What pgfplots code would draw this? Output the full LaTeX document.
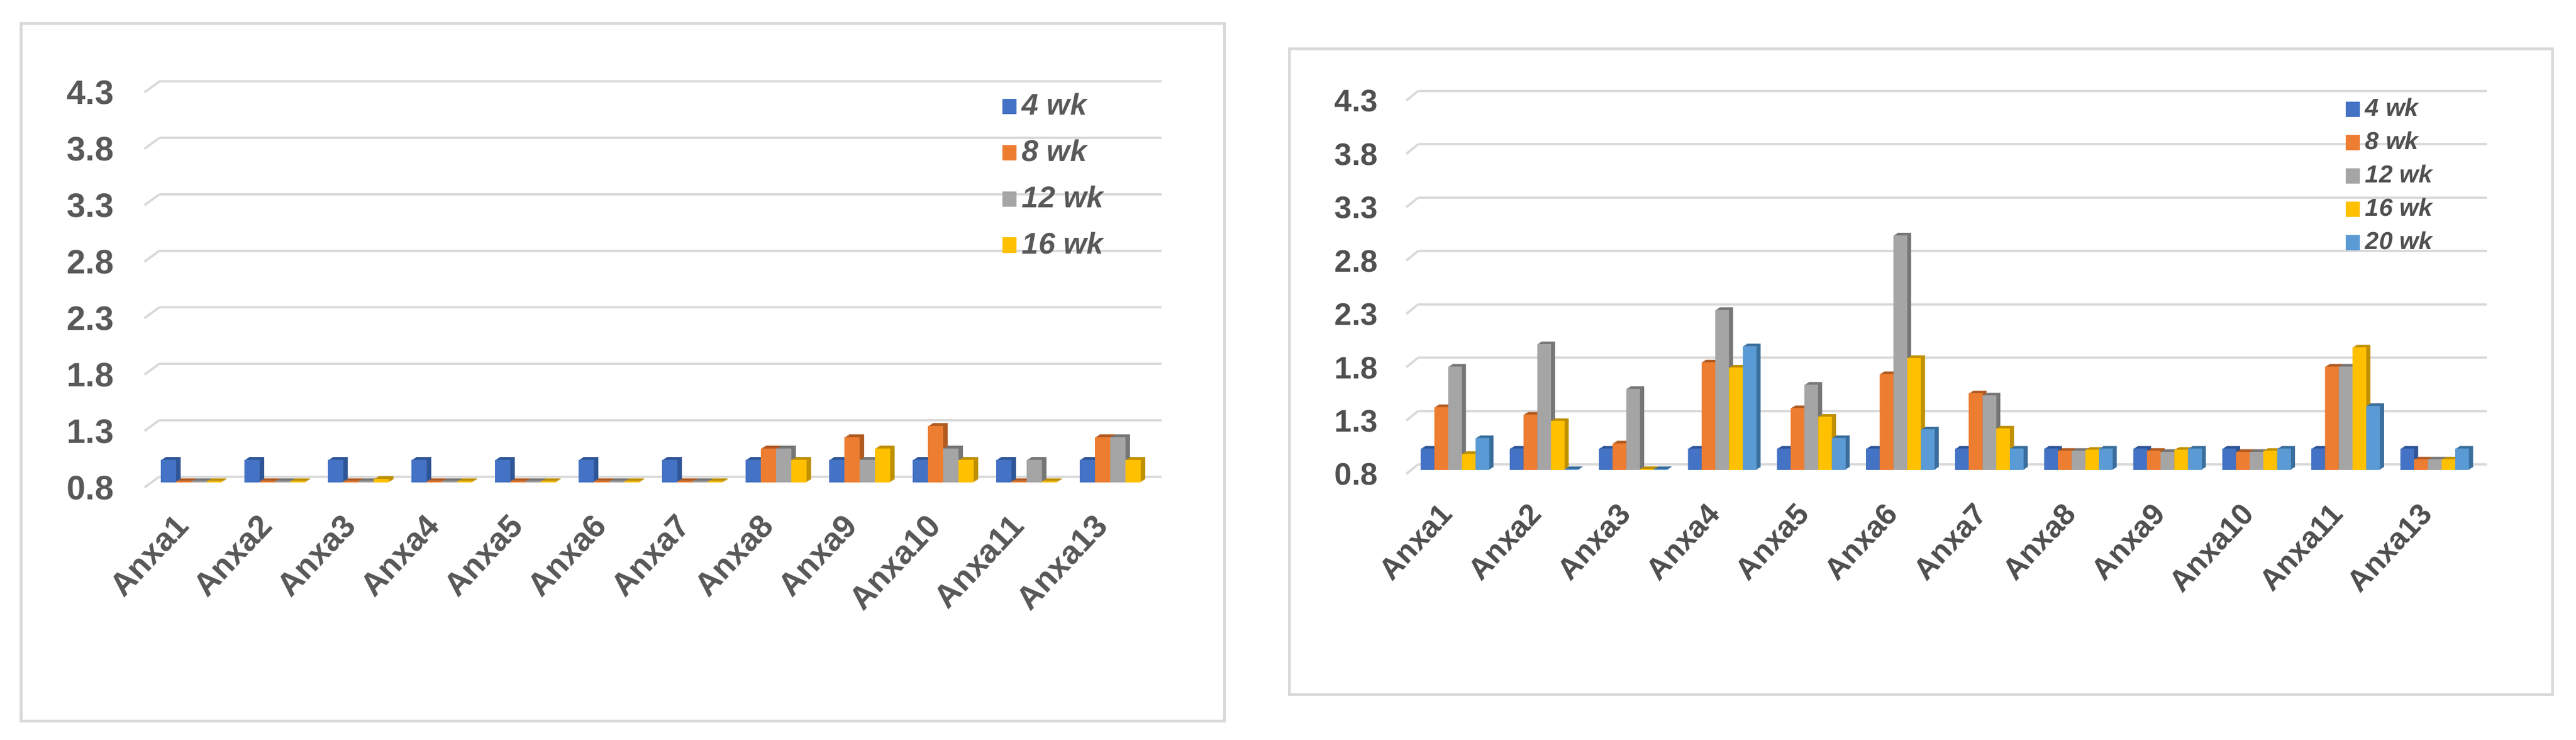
\documentclass[border=0pt]{standalone}
\usepackage{fontspec}
\setmainfont{Liberation Sans}
\usepackage{pgfplots}
\usepackage{pgfplotstable}
\pgfplotsset{compat=1.18}

\definecolor{c4}{HTML}{4472C4}
\definecolor{c8}{HTML}{ED7D31}
\definecolor{c12}{HTML}{A5A5A5}
\definecolor{c16}{HTML}{FFC000}
\definecolor{c20}{HTML}{5B9BD5}
\definecolor{d4}{HTML}{2F5597}
\definecolor{d8}{HTML}{B05A22}
\definecolor{d12}{HTML}{767676}
\definecolor{d16}{HTML}{BF9000}
\definecolor{d20}{HTML}{3A6E9C}
\definecolor{gridc}{HTML}{D9D9D9}
\definecolor{txtl}{HTML}{595959}
\definecolor{txtr}{HTML}{505050}

% left panel, 4 series
\pgfplotstableread{
idx w4 w8 w12 w16
0  1.0 0.81 0.81 0.81
1  1.0 0.81 0.81 0.81
2  1.0 0.81 0.81 0.83
3  1.0 0.81 0.81 0.81
4  1.0 0.81 0.81 0.81
5  1.0 0.81 0.81 0.81
6  1.0 0.81 0.81 0.81
7  1.0 1.1  1.1  1.0
8  1.0 1.2  1.0  1.1
9  1.0 1.3  1.1  1.0
10 1.0 0.81 1.0  0.81
11 1.0 1.2  1.2  1.0
}\leftdata

% right panel, 5 series
\pgfplotstableread{
idx w4 w8 w12 w16 w20
0  1.0 1.39 1.77 0.95 1.10
1  1.0 1.32 1.98 1.26 0.81
2  1.0 1.05 1.56 0.81 0.81
3  1.0 1.81 2.30 1.76 1.96
4  1.0 1.38 1.60 1.30 1.10
5  1.0 1.70 3.00 1.85 1.18
6  1.0 1.52 1.50 1.19 1.00
7  1.0 0.98 0.98 0.99 1.00
8  1.0 0.98 0.97 0.99 1.00
9  1.0 0.97 0.97 0.98 1.00
10 1.0 1.77 1.77 1.95 1.40
11 1.0 0.90 0.90 0.90 1.00
}\rightdata

% bar with a darker oblique extrusion
\tikzset{
  ext/.code n args={3}{\tikzset{
    fill=#1, draw=none,
    preaction={fill=#2, transform canvas={shift={(#3*1.6pt,#3*1.0pt)}}},
    preaction={fill=#2, transform canvas={shift={(#3*1.07pt,#3*0.67pt)}}},
    preaction={fill=#2, transform canvas={shift={(#3*0.53pt,#3*0.33pt)}}}
  }}
}

\pgfplotsset{
  panel/.style={
    scale only axis, clip=false,
    ybar=0pt,
    ymin=0.8, ymax=4.3,
    xmin=-0.5, xmax=11.5,
    ytick={0.8,1.3,1.8,2.3,2.8,3.3,3.8,4.3},
    xtick={0,...,11},
    xticklabels={Anxa1,Anxa2,Anxa3,Anxa4,Anxa5,Anxa6,Anxa7,Anxa8,Anxa9,Anxa10,Anxa11,Anxa13},
    axis line style={draw=none},
    major tick length=0pt,
    ymajorgrids,
    /pgf/number format/assume math mode=true,
    /pgf/number format/fixed,
    /pgf/number format/fixed zerofill,
    /pgf/number format/precision=1,
    legend cell align=left,
    legend image code/.code={\fill[##1,draw=none] (0pt,-2.75pt) rectangle (5pt,2.75pt);},
  },
}

\begin{document}
\begin{tikzpicture}[x=1pt,y=1pt]
\fill[white] (0,0) rectangle (912.8,262);
\draw[gridc,line width=1pt] (7.4,6.6) rectangle (433.8,253.6);
\draw[gridc,line width=1pt] (456.8,16) rectangle (904.4,244.6);

\begin{axis}[panel,
  at={(53pt,91.2pt)}, anchor=south west,
  width=355.2pt, height=139.9pt,
  major grid style={gridc,line width=0.8pt,xshift=3.4pt,yshift=2pt},
  yticklabel style={font=\fontsize{12}{13}\selectfont\bfseries,text=txtl,anchor=east,inner sep=0pt,xshift=-12.4pt,yshift=-1.9pt},
  xticklabel style={font=\fontsize{11.5}{13}\selectfont\bfseries,text=txtl,yshift=-16pt,rotate=47,anchor=south east,inner sep=0pt},
  legend style={at={(0.85,1.0)},anchor=north west,draw=none,fill=none,inner sep=0pt,row sep=3.2pt,
    font=\fontsize{10.6}{11}\selectfont\bfseries\itshape,text=txtl},
]
\pgfplotsinvokeforeach{0.8,1.3,1.8,2.3,2.8,3.3,3.8,4.3}{
  \draw[gridc,line width=0.8pt] ([xshift=3.4pt,yshift=2pt]axis cs:-0.5,#1) -- ++(-5.2pt,-3.8pt);
}
\addplot[forget plot,bar width=5.4pt,bar shift=-8.1pt,ext={c4}{d4}{1}] table[x=idx,y=w4]{\leftdata};
\addplot[forget plot,bar width=5.4pt,bar shift=-2.7pt,ext={c8}{d8}{1}] table[x=idx,y=w8]{\leftdata};
\addplot[forget plot,bar width=5.4pt,bar shift=2.7pt,ext={c12}{d12}{1}] table[x=idx,y=w12]{\leftdata};
\addplot[forget plot,bar width=5.4pt,bar shift=8.1pt,ext={c16}{d16}{1}] table[x=idx,y=w16]{\leftdata};
\addlegendimage{fill=c4}\addlegendentry{4 wk}
\addlegendimage{fill=c8}\addlegendentry{8 wk}
\addlegendimage{fill=c12}\addlegendentry{12 wk}
\addlegendimage{fill=c16}\addlegendentry{16 wk}
\end{axis}

\begin{axis}[panel,
  at={(499.8pt,95.6pt)}, anchor=south west,
  width=378.7pt, height=132.2pt,
  major grid style={gridc,line width=0.8pt,xshift=2.7pt,yshift=2pt},
  yticklabel style={font=\fontsize{11}{12}\selectfont\bfseries,text=txtr,anchor=east,inner sep=0pt,xshift=-11.4pt,yshift=-1.6pt},
  xticklabel style={font=\fontsize{10.7}{12}\selectfont\bfseries,text=txtr,yshift=-16.2pt,rotate=47,anchor=south east,inner sep=0pt},
  legend style={at={(0.8745,1.012)},anchor=north west,draw=none,fill=none,inner sep=0pt,row sep=0pt,
    font=\fontsize{8.7}{9}\selectfont\bfseries\itshape,text=txtr},
]
\pgfplotsinvokeforeach{0.8,1.3,1.8,2.3,2.8,3.3,3.8,4.3}{
  \draw[gridc,line width=0.8pt] ([xshift=2.7pt,yshift=2pt]axis cs:-0.5,#1) -- ++(-4.2pt,-3.4pt);
}
\addplot[forget plot,bar width=4.86pt,bar shift=-9.72pt,ext={c4}{d4}{0.9}] table[x=idx,y=w4]{\rightdata};
\addplot[forget plot,bar width=4.86pt,bar shift=-4.86pt,ext={c8}{d8}{0.9}] table[x=idx,y=w8]{\rightdata};
\addplot[forget plot,bar width=4.86pt,bar shift=0pt,ext={c12}{d12}{0.9}] table[x=idx,y=w12]{\rightdata};
\addplot[forget plot,bar width=4.86pt,bar shift=4.86pt,ext={c16}{d16}{0.9}] table[x=idx,y=w16]{\rightdata};
\addplot[forget plot,bar width=4.86pt,bar shift=9.72pt,ext={c20}{d20}{0.9}] table[x=idx,y=w20]{\rightdata};
\addlegendimage{fill=c4}\addlegendentry{4 wk}
\addlegendimage{fill=c8}\addlegendentry{8 wk}
\addlegendimage{fill=c12}\addlegendentry{12 wk}
\addlegendimage{fill=c16}\addlegendentry{16 wk}
\addlegendimage{fill=c20}\addlegendentry{20 wk}
\end{axis}
\end{tikzpicture}
\end{document}
